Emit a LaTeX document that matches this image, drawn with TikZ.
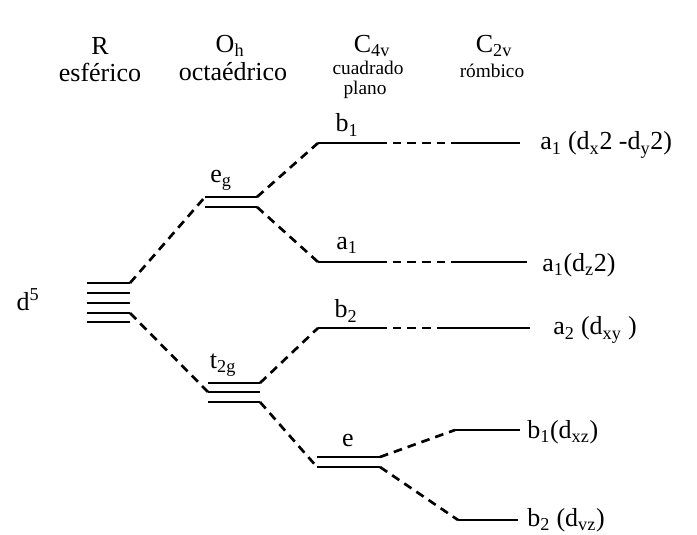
\documentclass[tikz,border=0pt]{standalone}
\usepackage{fontspec}
\setmainfont{Liberation Serif}
\tikzset{
  level/.style={line width=2pt},
  link/.style={line width=2pt, dash pattern=on 6.5pt off 4.5pt},
  lbl/.style={inner sep=0pt, font=\fontsize{19.5}{22}\selectfont},
  subhead/.style={inner sep=0pt, font=\fontsize{14.5}{16}\selectfont},
}
\newcommand{\lo}[1]{\textsubscript{#1}}
\begin{document}
\begin{tikzpicture}[x=0.75pt,y=0.75pt,yscale=-1,xscale=1]
	\useasboundingbox (0,0) rectangle (697,535);

	% Text Node
	\node[lbl] (hR) at (100,46) {R};
	\node[lbl] (hRt) at (100,72) {esférico};
	\node[lbl] (hO) at (230,46) {O\lo{h}};
	\node[lbl] (hOt) at (233,72) {octaédrico};
	\node[lbl] (hC4) at (372,46) {C\lo{4v}};
	\node[subhead] (hC4t) at (368,68) {cuadrado};
	\node[subhead] (hC4u) at (365,90) {plano};
	\node[lbl] (hC2) at (494,46) {C\lo{2v}};
	\node[subhead] (hC2t) at (492,71) {rómbico};

	%Shape: levels, spherical
	\foreach \y [count=\i] in {283,293,303,313,322} {
		\coordinate (sL\i) at (87,\y);
		\coordinate (sR\i) at (130,\y);
		\draw[level] (sL\i) -- (sR\i);
	}
	%Shape: levels, octahedral
	\foreach \y [count=\i] in {197,207} {
		\coordinate (egL\i) at (205,\y);
		\coordinate (egR\i) at (257,\y);
		\draw[level] (egL\i) -- (egR\i);
	}
	\foreach \y [count=\i] in {383,392,402} {
		\coordinate (tL\i) at (208,\y);
		\coordinate (tR\i) at (260,\y);
		\draw[level] (tL\i) -- (tR\i);
	}
	%Shape: levels, square planar
	\foreach \n/\y in {b1/143,a1/262,b2/328} {
		\coordinate (\n L) at (318,\y);
		\coordinate (\n R) at (378,\y);
		\draw[level] (\n L) -- (\n R);
	}
	\foreach \y [count=\i] in {457,467} {
		\coordinate (eL\i) at (317,\y);
		\coordinate (eR\i) at (380,\y);
		\draw[level] (eL\i) -- (eR\i);
	}
	%Shape: levels, rhombic
	\foreach \n/\xa/\xb/\y in {ra/455/520/143,rz/452/527/262,rxy/442/530/328,rxz/455/520/430,ryz/458/518/520} {
		\coordinate (\n L) at (\xa,\y);
		\coordinate (\n R) at (\xb,\y);
		\draw[level] (\n L) -- (\n R);
	}

	%Straight Lines
	\draw[link] (sR1) -- (egL1);
	\draw[link] (sR4) -- (tL2);
	\draw[link] (egR1) -- (b1L);
	\draw[link] (egR2) -- (a1L);
	\draw[link] (tR1) -- (b2L);
	\draw[link] (tR3) -- (eL2);
	\draw[link] (eR1) -- (rxzL);
	\draw[link] (eR2) -- (ryzL);
	\draw[link] (b1R) -- (raL);
	\draw[link] (a1R) -- (rzL);
	\draw[link] (b2R) -- (rxyL);

	% Text Node
	\node[lbl] (d5) at (28,300) {d\textsuperscript{5}};
	\node[lbl] (eg) at (221,180) {e\lo{g}};
	\node[lbl] (t2g) at (223,365) {t\lo{2g}};
	\node[lbl] (b1) at (347,125) {b\lo{1}};
	\node[lbl] (a1) at (347,245) {a\lo{1}};
	\node[lbl] (b2) at (346,311) {b\lo{2}};
	\node[lbl] (e) at (348,440) {e};
	\node[lbl, anchor=west] (ra) at (540,145) {a\lo{1} (d\lo{x}2 -d\lo{y}2)};
	\node[lbl, anchor=west] (rz) at (542,265) {a\lo{1}(d\lo{z}2)};
	\node[lbl, anchor=west] (rxy) at (553,330) {a\lo{2} (d\lo{xy} )};
	\node[lbl, anchor=west] (rxz) at (527,432) {b\lo{1}(d\lo{xz})};
	\node[lbl, anchor=west] (ryz) at (527,520) {b\lo{2} (d\lo{vz})};
\end{tikzpicture}
\end{document}
